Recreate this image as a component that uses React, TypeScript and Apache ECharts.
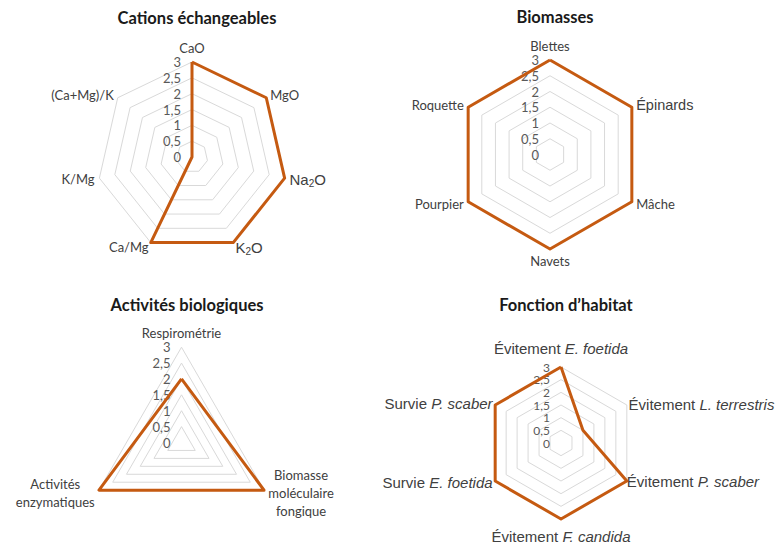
import React, { useEffect, useRef } from "react";
import * as echarts from "echarts";

// Panel titles
const titles = ["Cations échangeables", "Biomasses", "Activités biologiques", "Fonction d’habitat"];

// Panel 1 – exchangeable cations
const cationAxes = ["CaO", "MgO", "Na2O", "K2O", "Ca/Mg", "K/Mg", "(Ca+Mg)/K"];
const cationValues = [3, 3, 3, 3, 3, 0, 0];

// Panel 2 – biomasses
const biomassAxes = ["Blettes", "Épinards", "Mâche", "Navets", "Pourpier", "Roquette"];
const biomassValues = [3, 3, 3, 3, 3, 3];

// Panel 3 – biological activities
const activityAxes = ["Respirométrie", "Biomasse\nmoléculaire\nfongique", "Activités\nenzymatiques"];
const activityValues = [2, 3, 3];

// Panel 4 – habitat function (prefix, species name in italics)
const habitatAxes = [
  ["Évitement ", "E. foetida"],
  ["Évitement ", "L. terrestris"],
  ["Évitement ", "P. scaber"],
  ["Évitement ", "F. candida"],
  ["Survie ", "E. foetida"],
  ["Survie ", "P. scaber"],
];
const habitatValues = [3, 1, 3, 3, 3, 3];

// Shared value scale
const scaleMin = 0;
const scaleMax = 3;
const scaleSplits = 6;

const LINE_COLOR = "#C55A11";
const GRID_COLOR = "#D9D9D9";
const LABEL_COLOR = "#404040";
const TICK_COLOR = "#595959";
const CAL = "Lato, 'Noto Sans', sans-serif";
const ARIAL = "'Liberation Sans', Arial, sans-serif";

// Radar places indicators counter-clockwise; keep the first on top and reverse the rest
function clockwise<T>(arr: T[]): T[] {
  return [arr[0], ...arr.slice(1).reverse()];
}

const commaFormatter = (v: number) => String(v).replace(".", ",");

function buildRadar(
  names: string[],
  center: [number, number],
  radius: number,
  nameGap: number | number[],
  axisName: any,
  tickFont: { size: number; lineHeight: number } = { size: 13, lineHeight: 15 }
) {
  const gaps = Array.isArray(nameGap) ? clockwise(nameGap) : null;
  return {
    center,
    radius,
    startAngle: 90,
    shape: "polygon",
    splitNumber: scaleSplits,
    nameGap: Array.isArray(nameGap) ? 5 : nameGap,
    indicator: clockwise(names).map((name, i) => ({
      name,
      min: scaleMin,
      max: scaleMax,
      ...(gaps ? { nameGap: gaps[i] } : {}),
      ...(i === 0 ? { axisLabel: { show: true } } : {}),
    })),
    axisName,
    splitLine: { lineStyle: { color: GRID_COLOR, width: 1 } },
    splitArea: { show: false },
    axisLine: { show: false },
    axisTick: { show: false },
    axisLabel: {
      show: false,
      formatter: commaFormatter,
      color: TICK_COLOR,
      fontSize: tickFont.size,
      lineHeight: tickFont.lineHeight,
      fontFamily: CAL,
      margin: 11,
      showMinLabel: true,
      showMaxLabel: true,
      hideOverlap: false,
    },
  };
}

function buildSeries(values: number[], radarIndex: number) {
  return {
    type: "radar",
    radarIndex,
    symbol: "none",
    silent: true,
    lineStyle: { color: LINE_COLOR, width: 3 },
    itemStyle: { color: LINE_COLOR },
    data: [{ value: clockwise(values) }],
  };
}

export default function App() {
  const ref = useRef<HTMLDivElement>(null);

  useEffect(() => {
    if (!ref.current) return;
    const chart = echarts.init(ref.current, null, { renderer: "svg" });

    const titlePos: [number, number][] = [
      [192, 4],
      [550, 3],
      [182, 291],
      [561, 291],
    ];

    const option = {
      animation: false,
      backgroundColor: "#ffffff",
      title: titles.map((text, i) => ({
        text,
        left: titlePos[i][0],
        top: titlePos[i][1],
        textAlign: "center",
        textStyle: { fontFamily: CAL, fontSize: 16.5, fontWeight: "bold", color: "#1a1a1a" },
      })),
      radar: [
        buildRadar(cationAxes, [192, 157], 95, 5, {
          color: LABEL_COLOR,
          fontSize: 13,
          fontFamily: CAL,
          formatter: (name: string) =>
            /\d/.test(name)
              ? name
                  .split(/(\d)/)
                  .filter((p) => p !== "")
                  .map((p) => (/^\d$/.test(p) ? `{sub|${p}}` : `{big|${p}}`))
                  .join("")
              : name,
          rich: {
            big: { fontFamily: ARIAL, fontSize: 15, color: LABEL_COLOR },
            sub: { fontFamily: ARIAL, fontSize: 10, color: LABEL_COLOR, padding: [8, 0, 0, 0] },
          },
        }),
        buildRadar(biomassAxes, [550, 154.5], 94.5, 5, {
          color: LABEL_COLOR,
          fontSize: 13,
          fontFamily: CAL,
          formatter: (name: string) => (name === "Épinards" ? `{ar|${name}}` : name),
          rich: { ar: { fontFamily: ARIAL, fontSize: 14.5, color: LABEL_COLOR } },
        }),
        buildRadar(activityAxes, [181.5, 442.5], 95.3, 5, {
          color: LABEL_COLOR,
          fontSize: 13,
          fontFamily: CAL,
          formatter: (name: string) =>
            name
              .split("\n")
              .map((line) => `{c|${line}}`)
              .join("\n"),
          rich: { c: { align: "center", fontFamily: CAL, fontSize: 13, color: LABEL_COLOR, lineHeight: 18 } },
        }),
        buildRadar(
          habitatAxes.map((p) => p.join("")),
          [561, 443],
          76,
          [11, 2, 0, 10, 3, 3],
          {
            color: LABEL_COLOR,
            fontSize: 15,
            fontFamily: ARIAL,
            formatter: (name: string) => {
              const pair = habitatAxes.find((p) => p.join("") === name);
              return pair ? `{n|${pair[0]}}{i|${pair[1]}}` : name;
            },
            rich: {
              n: { fontFamily: ARIAL, fontSize: 15, color: LABEL_COLOR },
              i: { fontFamily: ARIAL, fontSize: 15, fontStyle: "italic", color: LABEL_COLOR },
            },
          },
          { size: 12, lineHeight: 11 }
        ),
      ],
      series: [
        buildSeries(cationValues, 0),
        buildSeries(biomassValues, 1),
        buildSeries(activityValues, 2),
        buildSeries(habitatValues, 3),
      ],
    };

    chart.setOption(option as any);
    return () => chart.dispose();
  }, []);

  return (
    <div
      ref={ref}
      style={{ position: "fixed", left: 0, top: 0, width: 778, height: 551, background: "#fff" }}
    />
  );
}
